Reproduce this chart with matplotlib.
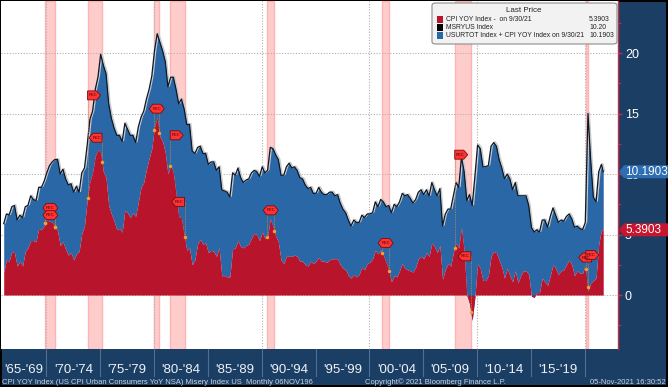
import numpy as np
import matplotlib
matplotlib.use('Agg')
import matplotlib.pyplot as plt
from matplotlib.patches import Polygon, Rectangle, FancyBboxPatch
from matplotlib.transforms import Affine2D, ScaledTranslation, blended_transform_factory, offset_copy

plt.rcParams['font.family'] = ['Liberation Sans', 'DejaVu Sans']

# CPI YoY %, sampled Jan/Apr/Jul/Oct 1966 .. Jul 2021, last value Sep 2021
cpi_yoy = [
    1.9, 2.9, 2.8, 3.6,   3.5, 2.4, 2.8, 2.4,   3.6, 3.9, 4.5, 4.5,   4.4, 5.5, 5.4, 5.7,
    6.2, 6.1, 6.0, 5.7,   5.3, 4.1, 4.4, 3.8,   3.3, 3.5, 2.9, 3.4,   3.6, 5.1, 5.7, 7.8,
    9.4, 10.1, 11.5, 12.0, 11.8, 10.2, 9.7, 7.4, 6.7, 6.1, 5.4, 5.5,  5.2, 7.0, 6.8, 6.4,
    6.8, 6.5, 7.7, 8.9,   9.3, 10.4, 11.3, 12.1, 13.9, 14.7, 13.1, 12.7, 11.8, 10.0, 10.8, 10.1,
    8.4, 6.5, 6.4, 5.0,   3.7, 3.9, 2.5, 2.9,   4.2, 4.6, 4.2, 4.3,   3.5, 3.7, 3.6, 3.2,
    3.9, 1.6, 1.6, 1.5,   1.5, 3.8, 3.9, 4.5,   4.0, 3.9, 4.1, 4.2,   4.7, 5.1, 5.0, 4.5,
    5.2, 4.7, 4.8, 6.3,   5.7, 4.9, 4.4, 2.9,   2.6, 3.2, 3.2, 3.2,   3.3, 3.2, 2.8, 2.8,
    2.5, 2.4, 2.8, 2.6,   2.8, 3.1, 2.8, 2.8,   2.7, 2.9, 3.0, 3.0,   3.0, 2.5, 2.2, 2.1,
    1.6, 1.4, 1.7, 1.5,   1.7, 2.3, 2.1, 2.6,   2.7, 3.0, 3.7, 3.4,   3.7, 3.3, 2.7, 2.1,
    1.1, 1.6, 1.5, 2.0,   2.6, 2.2, 2.1, 2.0,   1.9, 2.3, 3.0, 3.2,   3.0, 3.5, 3.2, 4.3,
    4.0, 3.5, 4.1, 1.3,   2.1, 2.6, 2.4, 3.5,   4.3, 3.9, 5.6, 3.7,   0.0, -0.7, -2.1, -0.2,
    2.6, 2.2, 1.2, 1.2,   1.6, 3.2, 3.6, 3.5,   2.9, 2.3, 1.4, 2.2,   1.6, 1.1, 2.0, 1.0,
    1.6, 2.0, 2.0, 1.7,   -0.1, -0.2, 0.2, 0.2, 1.4, 1.1, 0.8, 1.6,   2.5, 2.2, 1.7, 2.0,
    2.1, 2.5, 2.9, 2.5,   1.6, 2.0, 1.8, 1.8,   2.5, 0.3, 1.0, 1.2,   1.4, 4.2, 5.4, 5.3903,
]

# US unemployment rate %, same dates
unemp = [
    4.0, 3.8, 3.8, 3.7,   3.9, 3.8, 3.8, 4.0,   3.7, 3.5, 3.7, 3.4,   3.4, 3.4, 3.5, 3.7,
    3.9, 4.6, 5.0, 5.5,   5.9, 5.9, 6.0, 5.8,   5.8, 5.7, 5.6, 5.6,   4.9, 5.0, 4.8, 4.6,
    5.1, 5.1, 5.5, 6.0,   8.1, 8.8, 8.6, 8.4,   7.9, 7.7, 7.8, 7.7,   7.5, 7.2, 6.9, 6.8,
    6.4, 6.1, 6.2, 5.8,   5.9, 5.8, 5.7, 6.0,   6.3, 6.9, 7.8, 7.5,   7.5, 7.2, 7.2, 7.9,
    8.6, 9.3, 9.8, 10.4,  10.4, 10.2, 9.4, 8.8, 8.0, 7.7, 7.5, 7.4,   7.3, 7.3, 7.4, 7.1,
    6.7, 7.1, 7.0, 7.0,   6.6, 6.3, 6.0, 6.0,   5.7, 5.4, 5.4, 5.4,   5.4, 5.2, 5.2, 5.3,
    5.4, 5.4, 5.5, 5.9,   6.4, 6.7, 6.8, 7.0,   7.3, 7.4, 7.7, 7.3,   7.3, 7.1, 6.9, 6.8,
    6.6, 6.4, 6.1, 5.8,   5.6, 5.8, 5.7, 5.5,   5.6, 5.6, 5.5, 5.2,   5.3, 5.1, 4.9, 4.7,
    4.6, 4.3, 4.5, 4.5,   4.3, 4.3, 4.3, 4.1,   4.0, 3.8, 4.0, 3.9,   4.2, 4.4, 4.6, 5.3,
    5.7, 5.9, 5.8, 5.7,   5.8, 6.0, 6.2, 6.0,   5.7, 5.6, 5.5, 5.5,   5.3, 5.2, 5.0, 5.0,
    4.7, 4.7, 4.7, 4.4,   4.6, 4.5, 4.7, 4.7,   5.0, 5.0, 5.8, 6.5,   7.8, 9.0, 9.5, 10.0,
    9.8, 9.9, 9.4, 9.4,   9.1, 9.1, 9.0, 8.8,   8.3, 8.2, 8.2, 7.8,   8.0, 7.6, 7.3, 7.2,
    6.6, 6.2, 6.2, 5.7,   5.7, 5.4, 5.2, 5.0,   4.8, 5.1, 4.8, 4.9,   4.7, 4.4, 4.3, 4.2,
    4.0, 4.0, 3.8, 3.8,   4.0, 3.7, 3.7, 3.6,   3.5, 14.7, 10.2, 6.9,  6.3, 6.0, 5.4, 4.8,
]

# months since Jan 1966 for each sample (quarterly, last one is Sep 2021)
months = list(range(0, 667, 3)) + [668]

rec_start = [1969.92, 1973.83, 1980.0, 1981.5, 1990.5, 2001.17, 2007.92, 2020.08]
rec_end = [1970.83, 1975.17, 1980.5, 1982.83, 1991.17, 2001.83, 2009.42, 2020.25]

band_labels = ["'65-'69", "'70-'74", "'75-'79", "'80-'84", "'85-'89", "'90-'94",
               "'95-'99", "'00-'04", "'05-'09", "'10-'14", "'15-'19"]
band_starts = list(range(1965, 2020, 5))

legend_rows = ["CPI YOY Index -  on 9/30/21", "MSRYUS Index", "USURTOT Index + CPI YOY Index on 9/30/21"]
legend_vals = ["5.3903", "10.20", "10.1903"]

RED = '#b8152d'
BLUE = '#2a67a6'
NAVY = '#1b3e64'
W, H = 668, 387

cpi = np.array(cpi_yoy)
misery = cpi + np.array(unemp)
t = 1966 + np.array(months) / 12 + 1 / 24


def fx(px):
    return px / W


def fy(py):
    return 1 - py / H


fig = plt.figure(figsize=(W / 100, H / 100), dpi=100, facecolor=NAVY)
fig.patch.set_edgecolor('black')
fig.patch.set_linewidth(1.5)
ax = fig.add_axes([fx(1), fy(349), fx(618) - fx(1), fy(1) - fy(349)])
ax.set_facecolor('white')
ax.set_xlim(1965.79, 2023.08)
ax.set_ylim(-4.46, 24.3)

for s, e in zip(rec_start, rec_end):
    ax.axvspan(s, e, fc='#ffcccc', ec='#ffb4b4', lw=1, zorder=0.3)

ax.set_axisbelow(True)
ax.set_xticks(range(1970, 2021, 10))
ax.set_yticks([0, 5, 10, 15, 20])
ax.set_yticks(np.arange(-2.5, 24, 2.5), minor=True)
ax.grid(True, which='major', color='#b0b0b0', ls=(0, (1, 1.5)), lw=0.8)
ax.tick_params(axis='x', length=0, labelbottom=False)
ax.yaxis.tick_right()
ax.tick_params(axis='y', which='major', colors='#c0304a', labelcolor='white',
               labelsize=9, length=3, width=1, pad=2)
ax.tick_params(axis='y', which='minor', colors='#c0304a', length=2, width=0.8)
for side in ['left', 'top', 'bottom']:
    ax.spines[side].set_visible(False)
ax.spines['right'].set_color('#c0304a')
ax.spines['right'].set_linewidth(1)

ax.fill_between(t, cpi, misery, color=BLUE, lw=0, zorder=2)
ax.fill_between(t, 0, cpi, color=RED, lw=0, zorder=2.1)
shadow = offset_copy(ax.transData, fig=fig, x=1.3, y=0.8, units='dots')
ax.plot(t, misery, color='#c8c8c8', lw=1.0, transform=shadow, zorder=2.2)
ax.plot(t, misery, color='#0c1826', lw=0.9, zorder=2.3)


def flag(x, y, kind):
    tr = Affine2D() + ScaledTranslation(x, y, ax.transData)
    if kind == 'R':
        verts = [(0, -4.5), (9, -4.5), (13, 0), (9, 4.5), (0, 4.5)]
        tx = 5.5
    elif kind == 'L':
        verts = [(0, -4.5), (-9, -4.5), (-13, 0), (-9, 4.5), (0, 4.5)]
        tx = -5.5
    else:
        verts = [(-7.5, 0), (-4, -4.5), (4, -4.5), (7.5, 0), (4, 4.5), (-4, 4.5)]
        tx = 0
    ax.add_patch(Polygon(verts, closed=True, transform=tr, fc='#ff3333', ec='#7a0a0a',
                         lw=0.6, zorder=6, clip_on=False))
    ax.text(tx, 0, 'REC', transform=tr, fontsize=3, color='#3a0000',
            ha='center', va='center', zorder=7)


def stem(x, y):
    c = np.interp(x, t, cpi)
    ax.plot([x, x], [y, c], color='#c08a50', lw=0.6, ls=(0, (1, 1)), zorder=5)
    ax.plot(x, c, 'o', ms=2.5, color='#f0a030', mec='none', zorder=5.5)


# (recession index, kind, label height) - placement only
rec_flags = [(0, 'H', 7.2), (0, 'H', 6.6), (1, 'R', 16.5), (1, 'L', 13.0),
             (2, 'H', 15.4), (3, 'R', 13.2), (3, 'L', 7.7), (4, 'H', 7.0),
             (5, 'H', 4.3), (6, 'R', 11.6), (6, 'L', 3.2), (7, 'L2', 3.1), (7, 'R2', 3.3)]
for i, kind, yl in rec_flags:
    s, e = rec_start[i], rec_end[i]
    if kind == 'H':
        stem(s, yl)
        stem(e, yl)
        flag((s + e) / 2, yl, 'H')
    elif kind == 'R':
        stem(s, yl)
        flag(s, yl, 'R')
    elif kind == 'L':
        stem(e, yl)
        flag(e, yl, 'L')
    elif kind == 'L2':
        stem(s, yl)
        flag(s + 0.55, yl, 'L')
    else:
        stem(e, yl)
        flag(e - 0.15, yl, 'R')

# value tags on the right panel
edge = blended_transform_factory(ax.transAxes, ax.transData)
for val, col in [(misery[-1], '#2d6db3'), (cpi[-1], '#c8162f')]:
    tr = Affine2D() + ScaledTranslation(1.0, val, edge)
    ax.add_patch(Polygon([(1, 0), (6, -6.5), (50, -6.5), (50, 6.5), (6, 6.5)], closed=True,
                         transform=tr, fc=col, ec='none', zorder=8, clip_on=False))
    ax.text(7, 0, f'{val:.4f}', transform=tr, color='white', fontsize=8.5,
            ha='left', va='center', zorder=9)

# legend box
fig.patches.append(FancyBboxPatch((fx(432), fy(44)), fx(617) - fx(432), fy(3) - fy(44),
                                  boxstyle='round,pad=0,rounding_size=0.006',
                                  transform=fig.transFigure, fc='#f2f2f2', ec='#8c8c8c', lw=0.8))
fig.text(fx(524), fy(10.5), 'Last Price', fontsize=5.8, ha='center', va='center', color='#222222')
for k, (lab, val, col) in enumerate(zip(legend_rows, legend_vals, [RED, 'black', BLUE])):
    yy = 19.5 + 8 * k
    fig.patches.append(Rectangle((fx(437), fy(yy + 3)), fx(6), fy(0) - fy(6),
                                 transform=fig.transFigure, fc=col, ec='none'))
    fig.text(fx(446), fy(yy), lab, fontsize=4.9, va='center', color='#222222')
    fig.text(fx(589), fy(yy), val, fontsize=4.9, va='center', color='#222222')

# bottom band with period labels
band = blended_transform_factory(ax.transData, fig.transFigure)
x0 = ax.get_xlim()[0]
for yr in range(1970, 2021, 5):
    ax.plot([yr, yr], [fy(349), fy(376)], transform=band, color='#4f6f93', lw=0.8, clip_on=False)
for lab, y0 in zip(band_labels, band_starts):
    ax.text((max(y0, x0) + y0 + 5) / 2, fy(370), lab, transform=band, color='#eef2f7',
            fontsize=9.5, ha='center', va='center')

fig.text(fx(2), fy(382), 'CPI YOY Index (US CPI Urban Consumers YoY NSA) Misery Index US  Monthly 06NOV196',
         fontsize=5.5, color='#c9d5e2', va='center')
fig.text(fx(435), fy(382), 'Copyright\u00a9 2021 Bloomberg Finance L.P.', fontsize=5.5,
         color='#c9d5e2', va='center', ha='center')
fig.text(fx(666), fy(382), '05-Nov-2021 16:30:52', fontsize=5.5, color='#c9d5e2',
         va='center', ha='right')

fig.savefig('out.png', dpi=100)
